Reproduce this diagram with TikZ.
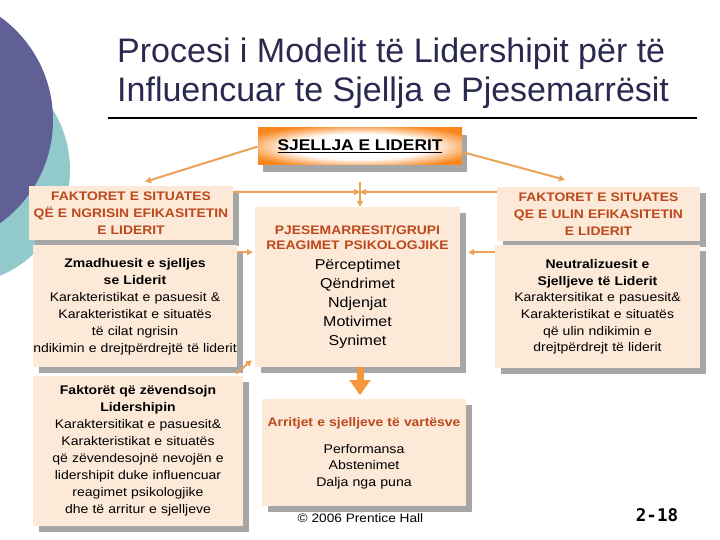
\documentclass[tikz,border=0pt]{standalone}
\usepackage{fontspec}
\setmainfont{Liberation Sans}
\newfontfamily\stretchfont{Liberation Sans}[FakeStretch=1.12]
\newfontfamily\pagefont{DejaVu Sans Mono}
\usetikzlibrary{positioning,arrows.meta,shadows}

\definecolor{peach}{RGB}{253,233,216}
\definecolor{shadowgray}{RGB}{166,166,166}
\definecolor{hdcol}{RGB}{188,72,28}
\definecolor{linecol}{RGB}{236,162,86}
\definecolor{bigcol}{RGB}{246,150,60}
\definecolor{sjorange}{RGB}{250,135,30}
\definecolor{titlecol}{RGB}{42,42,80}
\definecolor{discpurple}{RGB}{96,96,150}
\definecolor{discteal}{RGB}{146,202,204}
\pgfdeclareradialshading{glow}{\pgfpoint{0bp}{0bp}}{color(0bp)=(white); color(17bp)=(white); color(30bp)=(sjorange); color(50bp)=(sjorange)}
\newcommand{\hd}[1]{{\fontsize{12.4}{15}\selectfont\bfseries\color{hdcol}#1}}

\begin{document}
\begin{tikzpicture}[
  x=1pt, y=-1pt,
  font=\stretchfont,
  box/.style={fill=peach, align=center, inner sep=0pt,
              drop shadow={shadow xshift=6pt, shadow yshift=-6pt, fill=shadowgray, opacity=1}},
  hdbox/.style={box, font=\stretchfont\fontsize{12.4}{16.8}\selectfont\bfseries, text=hdcol},
  txtbox/.style={box, font=\stretchfont\fontsize{12.5}{17}\selectfont},
  conn/.style={-{Triangle[length=6pt,width=6pt]}, line width=2pt, linecol},
  bigarr/.style={-{Triangle[length=15pt,width=20pt]}, line width=7pt, bigcol}
]
\useasboundingbox (0,0) rectangle (720,540);
\fill[white] (0,0) rectangle (720,540);
% ---- corner discs ----
\begin{scope}
\clip (0,0) rectangle (720,540);
\fill[discteal] (-45,170) circle (115pt);
\fill[discpurple] (-74,120) circle (127pt);
\end{scope}
% ---- title ----
\node[anchor=north west, inner sep=0pt, align=left, text=titlecol,
      font=\fontsize{34}{39.5}\selectfont] (title) at (117,37.5)
      {Procesi i Modelit të Lidershipit për të\\Influencuar te Sjellja e Pjesemarrësit};
\draw[line width=2.2pt] (108,118) -- (697,118);
% ---- leader ----
\node[shading=glow, minimum width=204pt, minimum height=37pt, inner sep=0pt,
      font=\stretchfont\fontsize{15.5}{18}\selectfont\bfseries,
      drop shadow={shadow xshift=5pt, shadow yshift=-7pt, fill=shadowgray, opacity=1}]
      (lead) at (360,146.5) {\underline{SJELLJA E LIDERIT}};
% ---- left column ----
\node[hdbox, minimum width=204pt, minimum height=54pt, text width=204pt] (enh) at (131,213)
      {FAKTORET E SITUATES\\QË E NGRISIN EFIKASITETIN\\E LIDERIT};
\node[txtbox, minimum width=204pt, minimum height=122pt, text width=204pt,
      below=5pt of enh, xshift=4pt] (enhtxt)
      {\textbf{Zmadhuesit e sjelljes}\\\textbf{se Liderit}\\Karakteristikat e pasuesit \&\\
       Karakteristikat e situatës\\të cilat ngrisin\\ndikimin e drejtpërdrejtë të liderit};
\node[txtbox, minimum width=210pt, minimum height=150pt, text width=210pt,
      below=8pt of enhtxt, xshift=3pt] (subst)
      {\textbf{Faktorët që zëvendsojn}\\\textbf{Lidershipin}\\Karaktersitikat e pasuesit\&\\
       Karakteristikat e situatës\\që zëvendesojnë nevojën e\\lidershipit duke influencuar\\
       reagimet psikologjike\\dhe të arritur e sjelljeve};
% ---- middle column ----
\node[box, minimum width=205pt, minimum height=160pt, text width=205pt,
      font=\stretchfont\fontsize{14.3}{19}\selectfont] (part) at (357.5,287)
      {\hd{PJESEMARRESIT/GRUPI}\\[-4pt]\hd{REAGIMET PSIKOLOGJIKE}\\[1pt]
       Përceptimet\\Qëndrimet\\Ndjenjat\\Motivimet\\Synimet};
\node[box, minimum width=204pt, minimum height=107pt, text width=204pt,
      font=\stretchfont\fontsize{12.6}{16.5}\selectfont,
      below=32pt of part, xshift=6.5pt] (outc)
      {\hd{Arritjet e sjelljeve të vartësve}\\[10.5pt]Performansa\\Abstenimet\\Dalja nga puna};
% ---- right column ----
\node[hdbox, minimum width=203pt, minimum height=54pt, text width=203pt] (neu) at (598.5,214)
      {FAKTORET E SITUATES\\QE E ULIN EFIKASITETIN\\E LIDERIT};
\node[txtbox, minimum width=205pt, minimum height=123pt, text width=205pt,
      font=\stretchfont\fontsize{12.5}{16.6}\selectfont,
      below=4pt of neu, xshift=-1pt] (neutxt)
      {\textbf{Neutralizuesit e}\\\textbf{Sjelljeve të Liderit}\\Karaktersitikat e pasuesit\&\\
       Karakteristikat e situatës\\që ulin ndikimin e\\drejtpërdrejt të liderit};
% ---- connectors ----
\coordinate (hub) at (360,192);
\coordinate (hubtop) at (360,182);
\draw[conn] (lead.west) -- ([xshift=14pt,yshift=4pt]enh.north);
\draw[conn] ([yshift=-5.5pt]lead.east) -- ([xshift=-33.5pt,yshift=7pt]neu.north);
\draw[conn] ([yshift=-6pt]enh.north east) -- (hub);
\draw[conn] ([yshift=-5pt]neu.north west) -- (hub);
\draw[conn] (hubtop) -- (hubtop |- part.north);
\coordinate (inL) at ([yshift=-7pt]enhtxt.north east);
\draw[conn, shorten >=2pt] (inL) -- (inL -| part.west);
\coordinate (inR) at ([yshift=-7pt]neutxt.north west);
\draw[conn, shorten >=8pt] (inR) -- (inR -| part.east);
\draw[conn] ([xshift=-7pt,yshift=2pt]subst.north east) -- ([xshift=-3pt,yshift=7pt]part.south west);
\draw[bigarr, shorten >=4pt] ([xshift=2.5pt]part.south) -- ([xshift=-4pt]outc.north);
% ---- footer ----
\node[anchor=base, inner sep=0pt, font=\stretchfont\fontsize{12.2}{14}\selectfont] (copy) at (360.5,522)
      {© 2006 Prentice Hall};
\node[anchor=base, inner sep=0pt, font=\pagefont\fontsize{17.5}{20}\selectfont\bfseries] (pgno) at (657,521)
      {2-18};
\end{tikzpicture}
\end{document}
